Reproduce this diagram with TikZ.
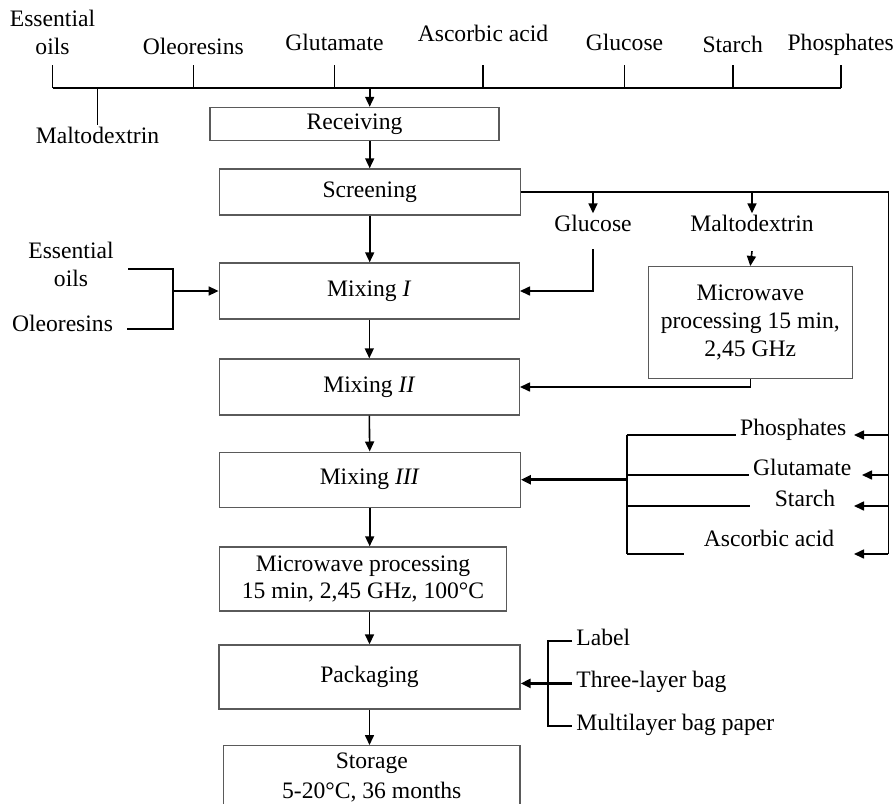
\documentclass[tikz,border=0pt]{standalone}
\usepackage{fontspec}
\setmainfont{Liberation Serif}
\usetikzlibrary{arrows.meta, positioning}
\definecolor{boxgray}{HTML}{5A5A5A}

\begin{document}
\begin{tikzpicture}[x=0.5pt, y=-0.5pt,
    font=\fontsize{11.8}{13.8}\selectfont,
    box/.style={rectangle, draw=boxgray, line width=0.7pt, align=center, inner sep=2pt},
    lbl/.style={inner sep=2pt, text height=0.7em, text depth=0.25em},
    lbl2/.style={inner sep=2pt, align=center},
    link/.style={line width=0.8pt},
    flow/.style={link, -{Triangle[length=5pt, width=4.5pt]}},
    heavy/.style={line width=1.3pt}
  ]
  \useasboundingbox (0,0) rectangle (896,804);
  \clip (0,0) rectangle (896,804);

  % process steps
  \node[box, minimum width=144.5pt, minimum height=16.5pt] (rec) at (354.5,124) {Receiving};
  \node[box, minimum width=150.5pt, minimum height=23pt] (scr) at (369.7,192) {Screening};
  \node[box, minimum width=150pt, minimum height=28pt] (mix1) at (369.3,291) {Mixing \textit{I}};
  \node[box, minimum width=150pt, minimum height=28pt] (mix2) at (369.3,387) {Mixing \textit{II}};
  \node[box, minimum width=150.5pt, minimum height=27.5pt] (mix3) at (369.7,479.7) {Mixing \textit{III}};
  \node[box, minimum width=143.5pt, minimum height=32pt] (mw) at (363,579) {Microwave processing\\15 min, 2,45 GHz, 100°C};
  \node[box, minimum width=150.5pt, minimum height=32pt] (pack) at (369.5,677) {Packaging};
  \node[box, minimum width=148.2pt, inner ysep=3.5pt, anchor=north] (store) at (371.8,745) {Storage\\[1.4pt]5-20°C, 36 months};
  \node[box, minimum width=102pt, minimum height=55.8pt] (mwr) at (750.3,322.5) {Microwave\\processing 15 min,\\2,45 GHz};

  % raw materials on top
  \node[lbl2] (ess) at (52.5,32.5) {Essential\\oils};
  \node[lbl, anchor=base] (ole) at (193.3,54.3) {Oleoresins};
  \node[lbl, anchor=base] (glu) at (334.5,50) {Glutamate};
  \node[lbl, anchor=base] (asc) at (483,41.7) {Ascorbic acid};
  \node[lbl, anchor=base] (glc) at (624.5,50) {Glucose};
  \node[lbl, anchor=base] (sta) at (732.7,52.7) {Starch};
  \node[lbl, anchor=base] (pho) at (840.7,50) {Phosphates};
  \node[lbl, anchor=base] (mal) at (97.5,143.3) {Maltodextrin};

  % screened fractions
  \node[lbl, anchor=base] (gluc) at (593,231.7) {Glucose};
  \node[lbl, anchor=base] (malt) at (752,231.7) {Maltodextrin};
  \node[lbl, anchor=base] (phos) at (793.3,435) {Phosphates};
  \node[lbl, anchor=base] (glut) at (802.3,475) {Glutamate};
  \node[lbl, anchor=base] (star) at (805,506) {Starch};
  \node[lbl, anchor=base] (ascb) at (769,546) {Ascorbic acid};

  \node[lbl2] (esso) at (71,264.2) {Essential\\oils};
  \node[lbl, anchor=base] (oleo) at (62.5,331.7) {Oleoresins};

  \node[lbl, anchor=base west] (lab) at (572,645.7) {Label};
  \node[lbl, anchor=base west] (thr) at (572,687.9) {Three-layer bag};
  \node[lbl, anchor=base west] (mul) at (572,730.7) {Multilayer bag paper};

  \coordinate (top) at (0,65);
  \coordinate (bus) at (0,88);
  \coordinate (rail) at (888.3,0);
  \coordinate (tip) at (854,0);
  \coordinate (tip2) at (862,0);
  \coordinate (brk) at (626.7,0);
  \coordinate (fork) at (172.7,0);
  \coordinate (pfork) at (548,0);
  \coordinate (ascy) at ([yshift=-4pt]ascb.base);
  \coordinate (eTop) at ([shift={(5pt,-2.5pt)}]esso.east);
  \coordinate (oBot) at ([shift={(5pt,1.5pt)}]oleo.base east);

  % collector line
  \foreach \n in {ess,ole,glu,asc,glc,sta,pho}
    \draw[link] (\n.center |- top) -- (\n.center |- bus);
  \draw[link] (ess.center |- bus) -- (pho.center |- bus);
  \draw[link, heavy] (mal.center |- bus) -- (sta.center |- bus);
  \draw[link] (mal.north) -- (mal.center |- bus);
  \draw[flow] (scr.north |- bus) -- (scr.north |- rec.north);

  % main flow
  \draw[flow] (rec.south -| scr.north) -- (scr.north);
  \draw[flow] (scr.south) -- (scr.south |- mix1.north);
  \draw[flow] (mix1.south) -- (mix2.north);
  \draw[flow] (mix2.south) -- (mix3.north);
  \draw[flow] (mix3.south) -- (mix3.south |- mw.north);
  \draw[flow] (mw.south -| pack.north) -- (pack.north);
  \draw[flow] (pack.south) -- (pack.south |- store.north);

  % screening outputs
  \draw[link] (scr.east) -- (scr.east -| rail) -- (rail |- ascy);
  \draw[flow] (scr.east -| gluc) -- (gluc.north);
  \draw[flow] (scr.east -| malt) -- (malt.north);
  \draw[flow] ([yshift=-5pt]malt.south) -- (mwr.north);
  \draw[flow] ([yshift=-4pt]gluc.south) |- (mix1.east);
  \draw[flow] (mwr.south) |- (mix2.east);

  \draw[flow] (rail |- phos.base) -- (tip |- phos.base);
  \draw[flow] (rail |- glut.base) -- (tip2 |- glut.base);
  \draw[flow] (rail |- star.base) -- (tip |- star.base);
  \draw[flow] (rail |- ascy) -- (tip |- ascy);

  % additives to mixing III
  \draw[link] (brk |- phos.base) -- (phos.base west);
  \draw[link] (brk |- glut.base) -- (glut.base west);
  \draw[link] (brk |- star.base) -- ([xshift=-10pt]star.base west);
  \draw[link] (brk |- ascy) -- ([xshift=-7.5pt]ascb.base west |- ascy);
  \draw[link] (brk |- phos.base) -- (brk |- ascy);
  \draw[flow, heavy] (brk |- mix3.east) -- (mix3.east);

  % additives to mixing I
  \draw[link] (eTop) -| (fork |- mix1.west) |- (oBot);
  \draw[flow] (fork |- mix1.west) -- (mix1.west);

  % packaging materials
  \draw[link] (lab.west) -| (pfork |- thr.west) |- (mul.west);
  \draw[flow, heavy] (thr.west) -- (thr.west -| pack.east);
\end{tikzpicture}
\end{document}
